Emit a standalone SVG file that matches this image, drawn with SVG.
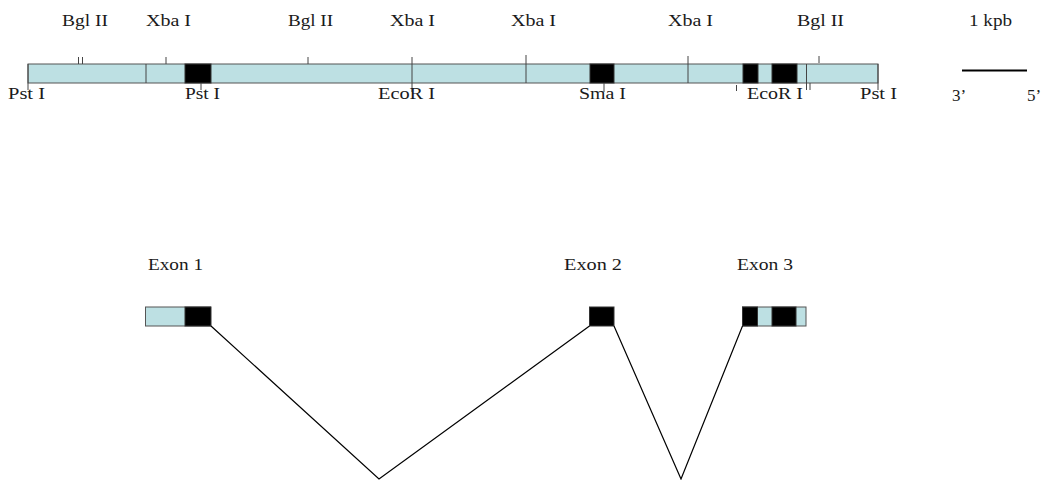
<svg xmlns="http://www.w3.org/2000/svg" width="1044" height="480" viewBox="0 0 1044 480">
<style>
text{font-family:"Liberation Serif","Times New Roman",serif;font-size:17px;fill:#1a1a1a}
.seg{fill:#bde0e3;stroke:#555;stroke-width:1}
.ex{fill:#000;stroke:#333;stroke-width:1}
.tk{stroke:#444;stroke-width:1;fill:none}
.ln{stroke:#000;stroke-width:1.2;fill:none}
</style>
<rect width="1044" height="480" fill="#fff"/>
<g id="gene-map">
<rect class="seg" x="28" y="64" width="850" height="19"/>
<rect class="ex" x="185" y="64" width="26" height="19"/>
<rect class="ex" x="590" y="64" width="24" height="19"/>
<rect class="ex" x="743" y="64" width="15" height="19"/>
<rect class="ex" x="772" y="64" width="25" height="19"/>
<path class="tk" d="M146,64V83 M526,55V83 M688,56V83 M806.5,64V90 M412,57V92 M28,64V90 M878,64V90
M78.5,57V64 M82.5,57V64 M166,57V64 M308,57V64 M819,56V63
M201,83V90 M604,83V92 M736.5,85V91 M810,83V90"/>
</g>
<g id="labels">
<text x="62" y="26" textLength="46" lengthAdjust="spacingAndGlyphs">Bgl II</text>
<text x="146" y="26" textLength="45" lengthAdjust="spacingAndGlyphs">Xba I</text>
<text x="288" y="26" textLength="45" lengthAdjust="spacingAndGlyphs">Bgl II</text>
<text x="390" y="26" textLength="45" lengthAdjust="spacingAndGlyphs">Xba I</text>
<text x="511" y="26" textLength="45" lengthAdjust="spacingAndGlyphs">Xba I</text>
<text x="668" y="26" textLength="45" lengthAdjust="spacingAndGlyphs">Xba I</text>
<text x="797" y="26" textLength="47" lengthAdjust="spacingAndGlyphs">Bgl II</text>
<text x="8" y="99" textLength="37" lengthAdjust="spacingAndGlyphs">Pst I</text>
<text x="185" y="99" textLength="35" lengthAdjust="spacingAndGlyphs">Pst I</text>
<text x="378" y="99" textLength="57" lengthAdjust="spacingAndGlyphs">EcoR I</text>
<text x="579" y="99" textLength="47" lengthAdjust="spacingAndGlyphs">Sma I</text>
<text x="747" y="99" textLength="56" lengthAdjust="spacingAndGlyphs">EcoR I</text>
<text x="860" y="99" textLength="37" lengthAdjust="spacingAndGlyphs">Pst I</text>
</g>
<g id="scale-bar">
<text x="969" y="26" textLength="43" lengthAdjust="spacingAndGlyphs">1 kpb</text>
<line x1="962" y1="70.5" x2="1027" y2="70.5" stroke="#000" stroke-width="2"/>
<text x="952" y="101">3’</text>
<text x="1027" y="101">5’</text>
</g>
<g id="exon1">
<text x="148" y="270" textLength="55" lengthAdjust="spacingAndGlyphs">Exon 1</text>
<rect class="seg" x="145.5" y="307" width="65" height="19"/>
<rect class="ex" x="185" y="307" width="26" height="19"/>
</g>
<g id="exon2">
<text x="564" y="270" textLength="58" lengthAdjust="spacingAndGlyphs">Exon 2</text>
<rect class="ex" x="589.5" y="307" width="24.5" height="19"/>
</g>
<g id="exon3">
<text x="737" y="270" textLength="56" lengthAdjust="spacingAndGlyphs">Exon 3</text>
<rect class="seg" x="742.5" y="307" width="63.5" height="19"/>
<rect class="ex" x="742.5" y="307" width="15" height="19"/>
<rect class="ex" x="772" y="307" width="24" height="19"/>
</g>
<g id="connectors">
<polyline class="ln" points="211,326 379,479 589.5,326"/>
<polyline class="ln" points="614,326 681,479 742.5,326"/>
</g>
</svg>
